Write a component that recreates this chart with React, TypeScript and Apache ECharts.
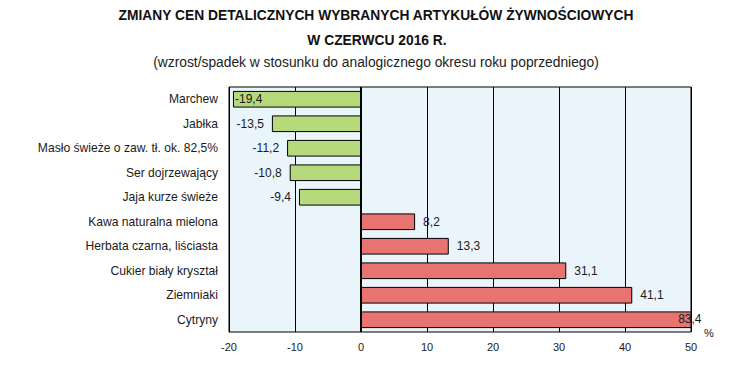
import React, { useEffect, useRef } from "react";
import * as echarts from "echarts";

const categories = [
  "Marchew",
  "Jabłka",
  "Masło świeże o zaw. tł. ok. 82,5%",
  "Ser dojrzewający",
  "Jaja kurze świeże",
  "Kawa naturalna mielona",
  "Herbata czarna, liściasta",
  "Cukier biały kryształ",
  "Ziemniaki",
  "Cytryny",
];
const values = [-19.4, -13.5, -11.2, -10.8, -9.4, 8.2, 13.3, 31.1, 41.1, 83.4];
const xTicks = { min: -20, max: 50, interval: 10 };
const titleLines = [
  "ZMIANY CEN DETALICZNYCH WYBRANYCH ARTYKUŁÓW ŻYWNOŚCIOWYCH",
  "W CZERWCU 2016 R.",
  "(wzrost/spadek w stosunku do analogicznego okresu roku poprzedniego)",
];

const FONT = "'Liberation Sans', Arial, sans-serif";

export default function App() {
  const ref = useRef<HTMLDivElement>(null);
  useEffect(() => {
    if (!ref.current) return;
    const chart = echarts.init(ref.current, undefined, { renderer: "svg" });
    const data = values.map((v) => {
      const neg = v < 0;
      const label: any = {
        show: true,
        position: neg ? "left" : "right",
        distance: 8,
      };
      if (v < xTicks.min + 2) {
        label.position = "insideLeft";
        label.distance = 2;
      }
      if (v > xTicks.max) {
        label.position = "insideRight";
        label.offset = [18, -1];
      }
      return {
        value: v,
        itemStyle: { color: neg ? "#b6d97c" : "#e87472" },
        label,
      };
    });
    chart.setOption({
      animation: false,
      textStyle: { fontFamily: FONT },
      grid: {
        left: 229,
        right: 59,
        top: 87,
        bottom: 33,
        show: true,
        backgroundColor: "#eaf4fb",
        borderColor: "#000",
        borderWidth: 1,
      },
      graphic: [
        {
          type: "text",
          x: 376,
          y: 15,
          style: {
            text: titleLines[0],
            font: `bold 13.8px ${FONT}`,
            fill: "#111",
            align: "center",
            verticalAlign: "middle",
          },
        },
        {
          type: "text",
          x: 377,
          y: 40,
          style: {
            text: titleLines[1],
            font: `bold 13.8px ${FONT}`,
            fill: "#111",
            align: "center",
            verticalAlign: "middle",
          },
        },
        {
          type: "text",
          x: 376,
          y: 62,
          style: {
            text: titleLines[2],
            font: `13.8px ${FONT}`,
            fill: "#222",
            align: "center",
            verticalAlign: "middle",
          },
        },
        {
          type: "text",
          x: 709,
          y: 333,
          style: {
            text: "%",
            font: `11px ${FONT}`,
            fill: "#222",
            align: "center",
            verticalAlign: "middle",
          },
        },
      ],
      xAxis: {
        type: "value",
        min: xTicks.min,
        max: xTicks.max,
        interval: xTicks.interval,
        axisLine: { show: false },
        axisTick: { show: false },
        axisLabel: { color: "#1a1a1a", fontSize: 11, margin: 9, fontFamily: FONT },
        splitLine: { show: true, lineStyle: { color: "#000", width: 1 } },
      },
      yAxis: {
        type: "category",
        inverse: true,
        data: categories,
        axisLine: { show: false },
        axisTick: { show: false },
        axisLabel: { color: "#1a1a1a", fontSize: 12.1, margin: 11, fontFamily: FONT },
        splitLine: { show: false },
      },
      series: [
        {
          type: "bar",
          data,
          barCategoryGap: "32%",
          clip: true,
          itemStyle: { borderColor: "#000", borderWidth: 1 },
          label: {
            color: "#1a1a1a",
            fontSize: 12,
            fontFamily: FONT,
            formatter: (p: any) => String(p.value).replace(".", ","),
          },
          markLine: {
            silent: true,
            symbol: "none",
            label: { show: false },
            lineStyle: { color: "#000", width: 2, type: "solid" },
            data: [{ xAxis: 0 }],
          },
        },
      ],
    });
    return () => chart.dispose();
  }, []);
  return (
    <div
      ref={ref}
      style={{ position: "fixed", left: 0, top: 0, width: 750, height: 365, background: "#fff" }}
    />
  );
}
